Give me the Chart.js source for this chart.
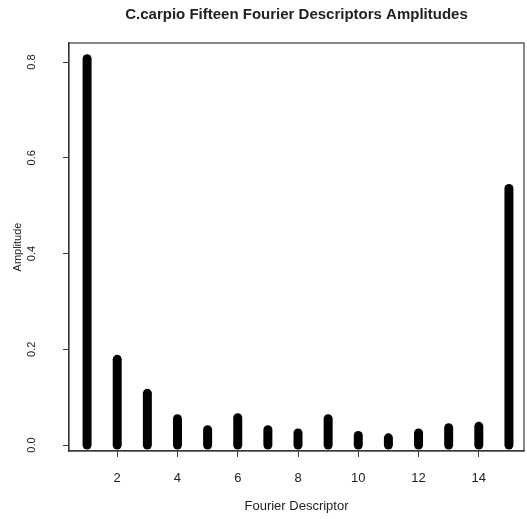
<!DOCTYPE html>
<html>
<head>
<meta charset="utf-8">
<script src="https://cdn.jsdelivr.net/npm/chart.js@4"></script>
<style>
  html, body { margin: 0; padding: 0; background: #fff; }
  canvas { display: block; }
</style>
</head>
<body>
<canvas id="fd" width="527" height="519"></canvas>
<script>
// Fourier descriptor index and amplitude
var descriptors = [1, 2, 3, 4, 5, 6, 7, 8, 9, 10, 11, 12, 13, 14, 15];
var amplitudes = [0.807, 0.179, 0.108, 0.055, 0.032, 0.057, 0.032, 0.025, 0.055, 0.020, 0.015, 0.025, 0.036, 0.039, 0.536];
var xTicks = [2, 4, 6, 8, 10, 12, 14];
var yTicks = [0.0, 0.2, 0.4, 0.6, 0.8];

var txt = '#222';
var lineCol = '#3a3a3a';

// one vertical line per descriptor, like R's type = "h"
var sets = descriptors.map(function (d, i) {
	return {
		data: [{ x: d, y: 0 }, { x: d, y: amplitudes[i] }],
		borderColor: '#000',
		borderWidth: 9,
		borderCapStyle: 'round',
		pointRadius: 0,
		showLine: true
	};
});

var boxAndLabels = {
	id: 'boxAndLabels',
	afterDraw: function (chart) {
		var ctx = chart.ctx, a = chart.chartArea;
		ctx.save();
		ctx.strokeStyle = lineCol;
		ctx.lineWidth = 1.2;
		ctx.strokeRect(a.left, a.top, a.right - a.left, a.bottom - a.top);
		var y = chart.scales.y;
		ctx.fillStyle = txt;
		ctx.font = '11px "Liberation Sans", Arial, sans-serif';
		ctx.textAlign = 'center';
		ctx.textBaseline = 'middle';
		yTicks.forEach(function (v) {
			ctx.save();
			ctx.translate(32, y.getPixelForValue(v));
			ctx.rotate(-Math.PI / 2);
			ctx.fillText(v.toFixed(1), 0, 0);
			ctx.restore();
		});
		ctx.restore();
	}
};

var ctx = document.getElementById('fd').getContext('2d');
var chart = new Chart(ctx, {
	type: 'scatter',
	data: { datasets: sets },
	options: {
		responsive: false,
		animation: false,
		layout: { padding: { left: 0, right: 3, top: 0, bottom: 0 } },
		plugins: {
			legend: { display: false },
			tooltip: { enabled: false },
			title: {
				display: true,
				fullSize: false,
				text: 'C.carpio Fifteen Fourier Descriptors Amplitudes',
				color: txt,
				font: { family: '"Liberation Sans", Arial, sans-serif', size: 15, weight: 'bold' },
				padding: { top: 6, bottom: 19 }
			}
		},
		scales: {
			x: {
				type: 'linear',
				min: 0.4,
				max: 15.5,
				afterBuildTicks: function (s) { s.ticks = xTicks.map(function (v) { return { value: v }; }); },
				afterFit: function (s) { s.height = 68; },
				grid: { display: true, drawOnChartArea: false, drawTicks: true, tickLength: 6, color: lineCol },
				border: { display: true, color: lineCol, width: 1.2 },
				ticks: {
					color: txt,
					padding: 14,
					maxRotation: 0,
					font: { family: '"Liberation Sans", Arial, sans-serif', size: 13 }
				},
				title: {
					display: true,
					text: 'Fourier Descriptor',
					color: txt,
					font: { family: '"Liberation Sans", Arial, sans-serif', size: 13 },
					padding: { top: 0, bottom: 5 }
				}
			},
			y: {
				min: -0.0125,
				max: 0.8397,
				afterBuildTicks: function (s) { s.ticks = yTicks.map(function (v) { return { value: v }; }); },
				afterFit: function (s) { s.width = 69; },
				grid: { display: true, drawOnChartArea: false, drawTicks: true, tickLength: 6, color: lineCol },
				border: { display: true, color: lineCol, width: 1.2 },
				ticks: { display: false },
				title: {
					display: true,
					text: 'Amplitude',
					color: txt,
					font: { family: '"Liberation Sans", Arial, sans-serif', size: 11 },
					padding: { top: 11, bottom: 0 }
				}
			}
		}
	},
	plugins: [boxAndLabels]
});
</script>
</body>
</html>
